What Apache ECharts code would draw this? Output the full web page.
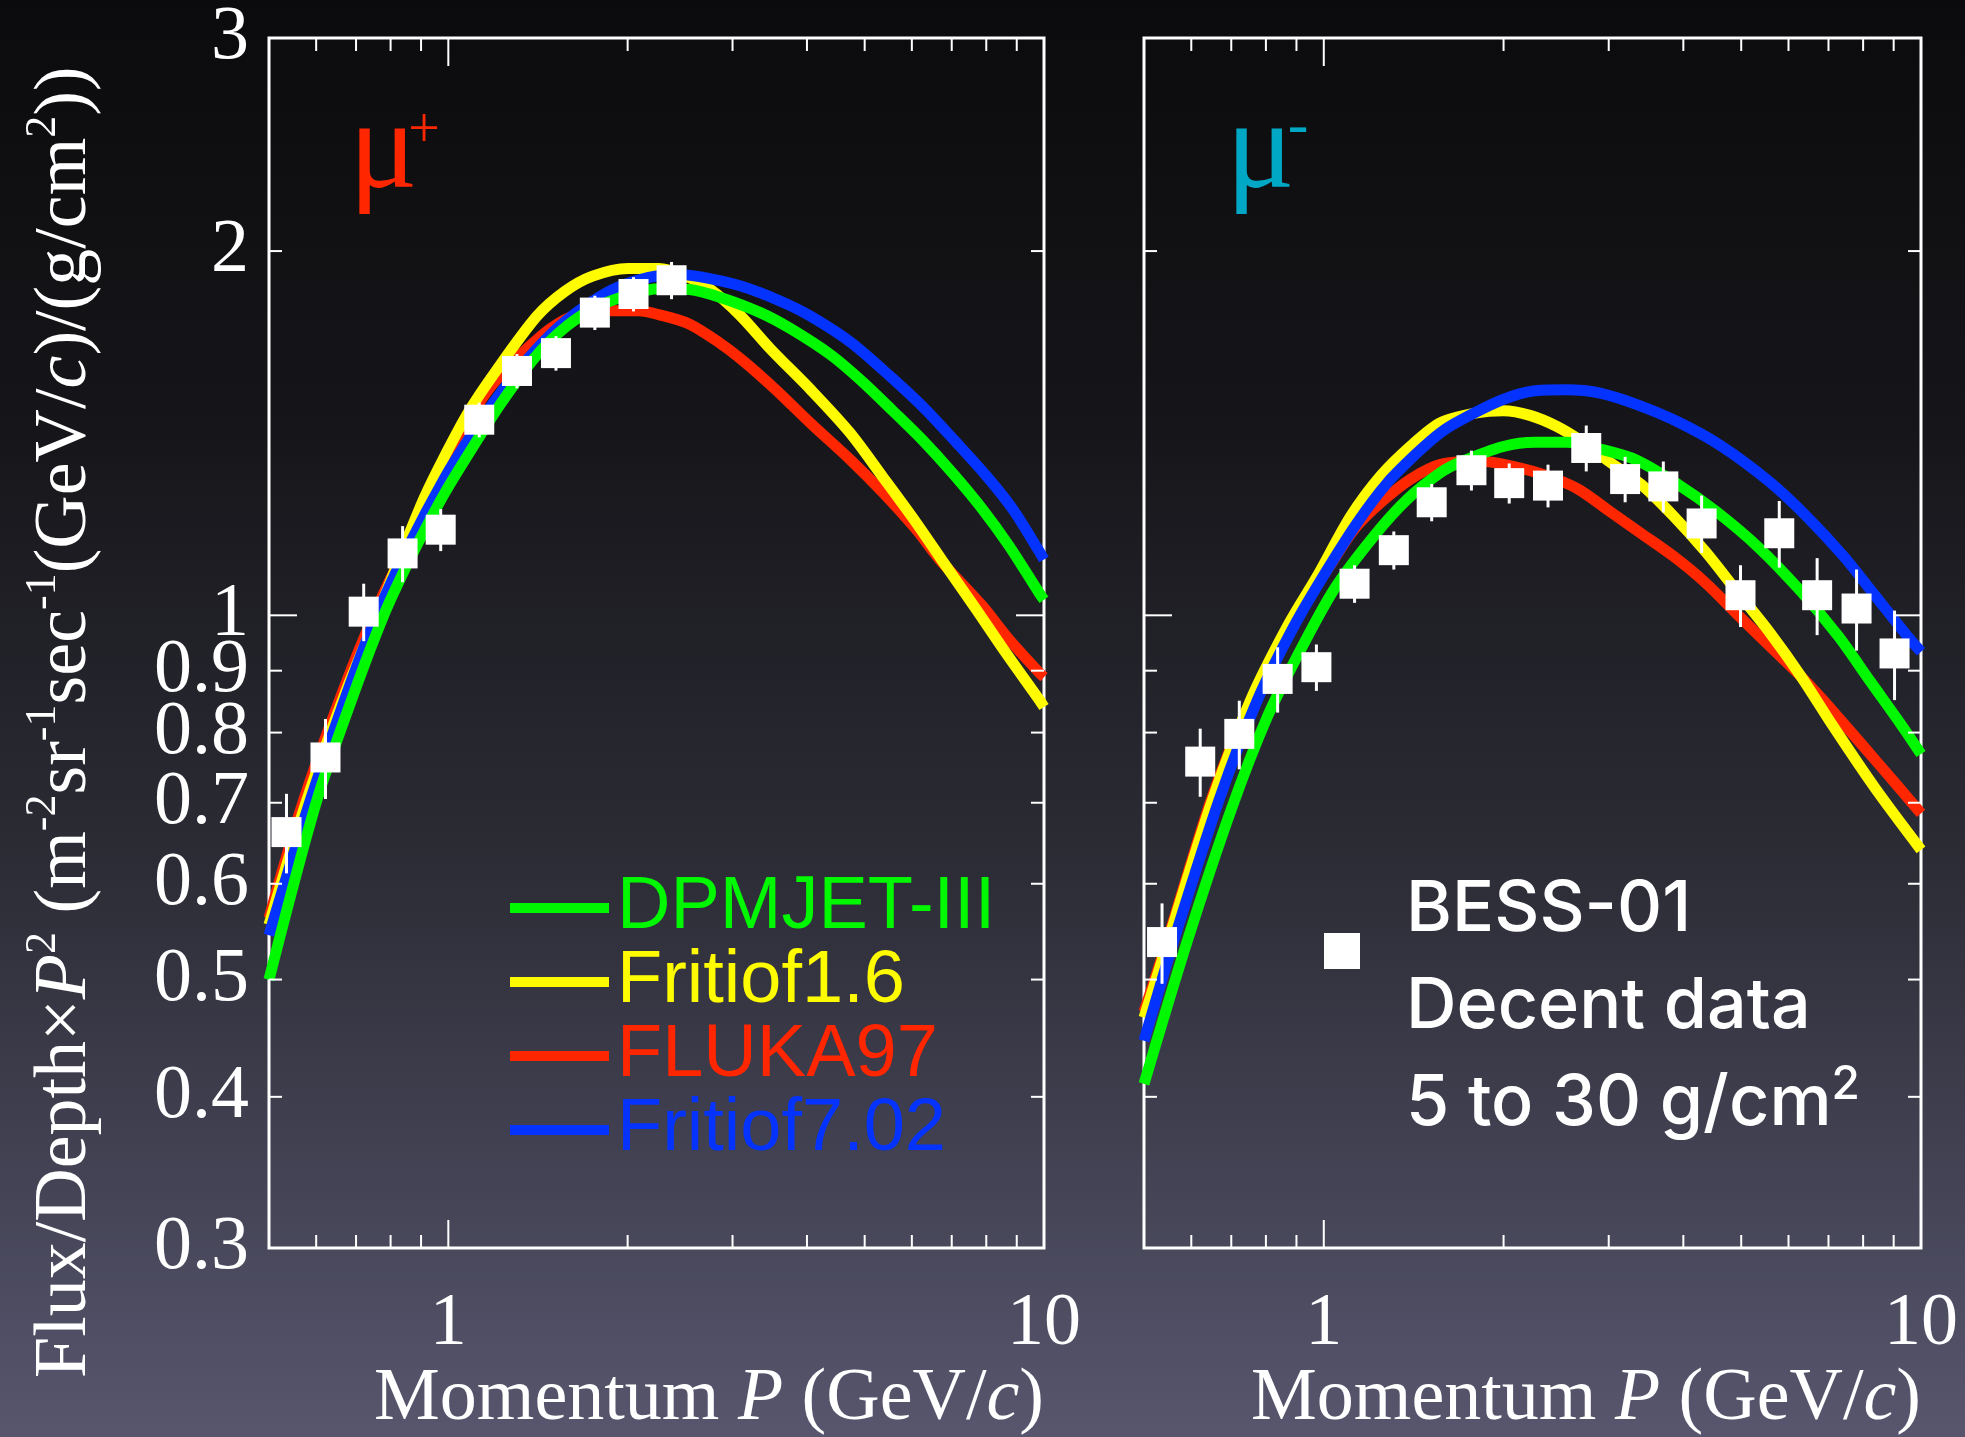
<!DOCTYPE html>
<html><head><meta charset="utf-8">
<script src="https://cdn.jsdelivr.net/npm/echarts@6/dist/echarts.min.js"></script>
<style>html,body{margin:0;padding:0;background:#000;}#c{width:1965px;height:1437px;}</style>
</head><body><div id="c"></div>
<script>
// ---------------- data ----------------
const modelNames = ['DPMJET-III', 'Fritiof1.6', 'FLUKA97', 'Fritiof7.02'];
const xRange = [0.5, 10];
const yRange = [0.3, 3];
const xLabelValues = [1, 10];
const yLabelValues = [0.3, 0.4, 0.5, 0.6, 0.7, 0.8, 0.9, 1, 2, 3];
const xTickMajor = [1];
const xTickMinor = [0.6, 0.7, 0.8, 0.9, 2, 3, 4, 5, 6, 7, 8, 9];
const yTickMajor = [1];
const yTickMinor = [0.4, 0.5, 0.6, 0.7, 0.8, 0.9, 2];

// BESS-01 points: [momentum, flux, error]
const muPlusData = [[0.535,0.662,0.050],[0.622,0.763,0.058],[0.721,1.007,0.055],[0.838,1.125,0.060],[0.971,1.177,0.047],[1.127,1.451,0.048],[1.304,1.592,0.052],[1.516,1.647,0.054],[1.762,1.779,0.058],[2.046,1.843,0.060],[2.370,1.892,0.067]];
const muMinusData = [[0.536,0.537,0.041],[0.621,0.757,0.049],[0.722,0.798,0.052],[0.837,0.886,0.055],[0.972,0.906,0.040],[1.126,1.062,0.038],[1.310,1.132,0.041],[1.516,1.240,0.044],[1.767,1.318,0.050],[2.044,1.286,0.049],[2.374,1.280,0.052],[2.751,1.375,0.060],[3.196,1.296,0.056],[3.703,1.278,0.062],[4.292,1.191,0.065],[4.986,1.039,0.061],[5.790,1.169,0.074],[6.700,1.039,0.076],[7.800,1.013,0.078],[9.030,0.930,0.079]];

// model curves mu+
const muPlusDPMJET = [[0.5,0.500],[0.602,0.704],[0.705,0.880],[0.779,1.0],[0.835,1.078],[0.902,1.163],[0.987,1.263],[1.094,1.372],[1.228,1.499],[1.407,1.640],[1.583,1.735],[1.781,1.800],[2.044,1.845],[2.255,1.862],[2.537,1.859],[2.855,1.832],[3.340,1.779],[3.758,1.725],[4.397,1.640],[4.97,1.558],[5.58,1.475],[6.26,1.395],[7.03,1.310],[7.88,1.224],[8.74,1.141],[9.81,1.044],[10,1.030]];
const muPlusFritiof16 = [[0.5,0.555],[0.579,0.704],[0.676,0.870],[0.764,1.007],[0.814,1.091],[0.857,1.163],[0.914,1.255],[0.987,1.355],[1.080,1.471],[1.197,1.587],[1.407,1.766],[1.568,1.852],[1.746,1.907],[2.004,1.935],[2.255,1.935],[2.488,1.910],[2.745,1.862],[3.088,1.770],[3.474,1.660],[4.065,1.535],[4.72,1.416],[5.37,1.300],[6.10,1.193],[6.85,1.098],[7.69,1.012],[8.63,0.931],[9.81,0.852],[10,0.840]];
const muPlusFLUKA97 = [[0.5,0.562],[0.572,0.704],[0.668,0.870],[0.754,1.007],[0.857,1.150],[0.987,1.335],[1.08,1.45],[1.197,1.56],[1.435,1.703],[1.614,1.766],[1.816,1.785],[2.084,1.785],[2.255,1.772],[2.537,1.741],[2.855,1.679],[3.149,1.618],[3.542,1.537],[4.065,1.440],[4.72,1.346],[5.37,1.263],[6.10,1.178],[6.67,1.113],[7.88,1.018],[8.74,0.955],[9.81,0.897],[10,0.889]];
const muPlusFritiof702 = [[0.5,0.544],[0.587,0.704],[0.683,0.875],[0.758,1.0],[0.857,1.14],[0.987,1.30],[1.094,1.41],[1.228,1.53],[1.407,1.66],[1.583,1.755],[1.852,1.850],[2.084,1.893],[2.392,1.914],[2.638,1.905],[3.088,1.872],[3.613,1.818],[4.065,1.766],[4.757,1.679],[5.58,1.568],[6.34,1.478],[7.12,1.390],[7.99,1.305],[8.85,1.225],[9.81,1.130],[10,1.112]];

// model curves mu-
const muMinusDPMJET = [[0.5,0.410],[0.59,0.537],[0.699,0.690],[0.805,0.825],[0.915,0.937],[1.041,1.051],[1.214,1.163],[1.380,1.247],[1.569,1.312],[1.696,1.339],[1.998,1.379],[2.259,1.390],[2.555,1.390],[2.889,1.373],[3.336,1.344],[3.929,1.282],[4.537,1.219],[5.346,1.138],[6.300,1.046],[7.270,0.961],[8.222,0.882],[9.299,0.810],[10,0.768]];
const muMinusFritiof16 = [[0.5,0.465],[0.548,0.537],[0.651,0.704],[0.755,0.852],[0.870,0.980],[0.976,1.078],[1.110,1.208],[1.245,1.304],[1.398,1.380],[1.569,1.443],[1.803,1.470],[1.998,1.476],[2.214,1.463],[2.453,1.433],[2.718,1.390],[3.010,1.339],[3.405,1.282],[3.850,1.208],[4.355,1.129],[4.923,1.046],[5.570,0.969],[6.300,0.890],[7.124,0.810],[8.39,0.719],[10,0.640]];
const muMinusFLUKA97 = [[0.5,0.470],[0.548,0.540],[0.651,0.709],[0.755,0.850],[0.870,0.975],[1.014,1.091],[1.124,1.178],[1.245,1.239],[1.398,1.296],[1.569,1.333],[1.840,1.341],[2.082,1.327],[2.354,1.305],[2.662,1.272],[3.010,1.219],[3.405,1.168],[3.850,1.119],[4.355,1.064],[4.923,1.002],[5.570,0.944],[6.300,0.890],[6.84,0.852],[8.39,0.759],[10,0.686]];
const muMinusFritiof702 = [[0.5,0.445],[0.56,0.537],[0.668,0.704],[0.775,0.852],[0.892,0.980],[1.001,1.080],[1.138,1.193],[1.278,1.287],[1.435,1.363],[1.569,1.416],[1.696,1.450],[1.998,1.508],[2.259,1.533],[2.555,1.536],[2.889,1.527],[3.336,1.494],[3.929,1.444],[4.632,1.380],[5.570,1.290],[6.427,1.208],[7.421,1.119],[8.394,1.037],[9.491,0.961],[10,0.933]];

// ---------------- styling ----------------
const COL = {'DPMJET-III':'#00f900','Fritiof1.6':'#fffb00','FLUKA97':'#ff2600','Fritiof7.02':'#0433ff'};
const SERIF = '"Liberation Serif", "Times New Roman", serif';
const SANS = '"Liberation Sans", Arial, sans-serif';

const panels = [
  {curves: {'DPMJET-III':muPlusDPMJET,'Fritiof1.6':muPlusFritiof16,'FLUKA97':muPlusFLUKA97,'Fritiof7.02':muPlusFritiof702}, pts: muPlusData},
  {curves: {'DPMJET-III':muMinusDPMJET,'Fritiof1.6':muMinusFritiof16,'FLUKA97':muMinusFLUKA97,'Fritiof7.02':muMinusFritiof702}, pts: muMinusData}
];
const drawOrder = ['FLUKA97','Fritiof1.6','Fritiof7.02','DPMJET-III'];

const series = [];
panels.forEach((p, i) => {
  drawOrder.forEach(name => {
    series.push({
      type:'line', name, xAxisIndex:i, yAxisIndex:i, data:p.curves[name],
      showSymbol:false, symbol:'none', smooth:0.3, z:2, silent:true,
      lineStyle:{color:COL[name], width:11, cap:'butt', join:'round'},
      itemStyle:{color:COL[name]}
    });
  });
  series.push({
    type:'custom', xAxisIndex:i, yAxisIndex:i, z:3, silent:true,
    data:p.pts, encode:{x:0, y:1},
    renderItem:(params, api) => {
      const x = api.value(0), y = api.value(1), e = api.value(2);
      const lo = api.coord([x, y - e]), hi = api.coord([x, y + e]);
      return {type:'line', shape:{x1:lo[0], y1:lo[1], x2:hi[0], y2:hi[1]}, style:{stroke:'#ffffff', lineWidth:3}};
    }
  });
  series.push({
    type:'scatter', name:'BESS-01', xAxisIndex:i, yAxisIndex:i, z:4, silent:true,
    data:p.pts.map(d => [d[0], d[1]]), symbol:'rect', symbolSize:30,
    itemStyle:{color:'#ffffff', opacity:1}
  });
  const tick = (vals, dir, len) => ({
    type:'custom', xAxisIndex:i, yAxisIndex:i, z:5, silent:true, clip:false,
    data: vals.map(v => dir === 'x' ? [v, 1] : [1, v]), encode:{x:0, y:1},
    renderItem:(params, api) => {
      const st = {stroke:'#ffffff', lineWidth:2};
      if (dir === 'x') {
        const v = api.value(0);
        const b = api.coord([v, yRange[0]]), t = api.coord([v, yRange[1]]);
        return {type:'group', children:[
          {type:'line', shape:{x1:b[0], y1:b[1], x2:b[0], y2:b[1] - len}, style:st},
          {type:'line', shape:{x1:t[0], y1:t[1], x2:t[0], y2:t[1] + len}, style:st}]};
      } else {
        const v = api.value(1);
        const l = api.coord([xRange[0], v]), r = api.coord([xRange[1], v]);
        return {type:'group', children:[
          {type:'line', shape:{x1:l[0], y1:l[1], x2:l[0] + len, y2:l[1]}, style:st},
          {type:'line', shape:{x1:r[0], y1:r[1], x2:r[0] - len, y2:r[1]}, style:st}]};
      }
    }
  });
  series.push(tick(xTickMajor, 'x', 28), tick(xTickMinor, 'x', 13), tick(yTickMajor, 'y', 28), tick(yTickMinor, 'y', 13));
});

const fmt = v => String(+(+v).toPrecision(3));
const mkX = (gi) => ({
  gridIndex:gi, type:'log', logBase:10, min:xRange[0], max:xRange[1],
  axisLine:{show:false}, axisTick:{show:false}, splitLine:{show:false}, minorTick:{show:false},
  axisLabel:{customValues:xLabelValues, formatter:fmt, color:'#ffffff', fontFamily:SERIF, fontSize:74, lineHeight:74, margin:40, hideOverlap:false}
});
const mkY = (gi, show) => ({
  gridIndex:gi, type:'log', logBase:10, min:yRange[0], max:yRange[1],
  axisLine:{show:false}, axisTick:{show:false}, splitLine:{show:false}, minorTick:{show:false},
  axisLabel:{show:show, customValues:yLabelValues, formatter:fmt, color:'#ffffff', fontFamily:SERIF, fontSize:76, lineHeight:76, margin:20, hideOverlap:false}
});

const supRich = {
  i:{fontStyle:'italic', fontFamily:SERIF, fontSize:74, fill:'#ffffff', lineHeight:90},
  sup:{fontFamily:SERIF, fontSize:44, fill:'#ffffff', lineHeight:40, verticalAlign:'top'}
};

const option = {
  animation:false,
  backgroundColor:{type:'linear', x:0, y:0, x2:0, y2:1, colorStops:[
    {offset:0, color:'#0b0b0d'}, {offset:0.3, color:'#16161a'}, {offset:0.6, color:'#2c2c36'}, {offset:1, color:'#57566e'}]},
  grid:[
    {left:269, top:38, width:775, height:1210, show:true, borderColor:'#ffffff', borderWidth:3, backgroundColor:'transparent'},
    {left:1144, top:38, width:777, height:1210, show:true, borderColor:'#ffffff', borderWidth:3, backgroundColor:'transparent'}
  ],
  xAxis:[mkX(0), mkX(1)],
  yAxis:[mkY(0, true), mkY(1, false)],
  legend:{
    data: modelNames.map(n => ({name:n, textStyle:{color:COL[n]}})),
    orient:'vertical', left:505, top:866, itemWidth:99, itemHeight:10, itemGap:0, icon:'rect',
    selectedMode:false, itemStyle:{borderWidth:0},
    textStyle:{fontFamily:SANS, fontSize:74, lineHeight:72, padding:[0,0,0,3]}
  },
  graphic:[
    {type:'text', x:66, y:1378, rotation:Math.PI/2, silent:true, style:{
      text:'Flux/Depth×{i|P}{sup|2} (m{sup|-2}sr{sup|-1}sec{sup|-1}(GeV/{i|c})/(g/cm{sup|2}))',
      fill:'#ffffff', fontFamily:SERIF, fontSize:74, lineHeight:90, align:'left', verticalAlign:'middle', rich:supRich}},
    {type:'text', x:1044, y:1400, silent:true, style:{
      text:'Momentum {i|P} (GeV/{i|c})', fill:'#ffffff', fontFamily:SERIF, fontSize:74, lineHeight:90, align:'right', verticalAlign:'middle', rich:supRich}},
    {type:'text', x:1921, y:1400, silent:true, style:{
      text:'Momentum {i|P} (GeV/{i|c})', fill:'#ffffff', fontFamily:SERIF, fontSize:74, lineHeight:90, align:'right', verticalAlign:'middle', rich:supRich}},
    {type:'text', x:349, y:84, silent:true, style:{text:'μ', fontFamily:SERIF, fontSize:128, lineHeight:138, fill:'#ff2600', align:'left', verticalAlign:'top'}},
    {type:'text', x:424, y:132, silent:true, style:{text:'+', fontFamily:SERIF, fontSize:56, fill:'#ff2600', align:'center', verticalAlign:'middle'}},
    {type:'text', x:1226, y:84, silent:true, style:{text:'μ', fontFamily:SERIF, fontSize:128, lineHeight:138, fill:'#00a8c6', align:'left', verticalAlign:'top'}},
    {type:'text', x:1298, y:128, silent:true, style:{text:'-', fontFamily:SERIF, fontSize:62, fill:'#00a8c6', align:'center', verticalAlign:'middle'}},
    {type:'rect', shape:{x:1324, y:933, width:36, height:36}, style:{fill:'#ffffff'}, silent:true},
    {type:'text', x:1406, y:910, silent:true, style:{text:'BESS-01', fill:'#ffffff', fontFamily:'Inter', fontWeight:500, fontSize:70, align:'left', verticalAlign:'middle'}},
    {type:'text', x:1406, y:1007, silent:true, style:{text:'Decent data', fill:'#ffffff', fontFamily:'Inter', fontWeight:500, fontSize:70, align:'left', verticalAlign:'middle'}},
    {type:'text', x:1406, y:1104, silent:true, style:{text:'5 to 30 g/cm{sup|2}', fill:'#ffffff', fontFamily:'Inter', fontWeight:500, fontSize:70, lineHeight:84, align:'left', verticalAlign:'middle',
      rich:{sup:{fontFamily:'Inter', fontWeight:500, fontSize:46, fill:'#ffffff', lineHeight:36, verticalAlign:'top'}}}}
  ],
  series
};

const chart = echarts.init(document.getElementById('c'), null, {renderer:'canvas', width:1965, height:1437});
chart.setOption(option);
</script>
</body></html>
